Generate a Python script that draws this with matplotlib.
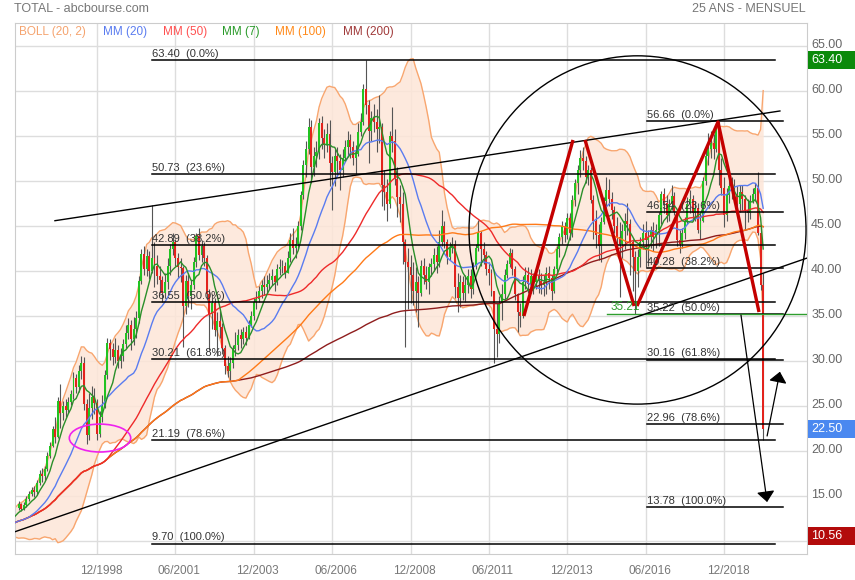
import numpy as np
import pandas as pd
import matplotlib
matplotlib.use("Agg")
import matplotlib.pyplot as plt
from matplotlib.patches import Ellipse, Rectangle
from matplotlib.transforms import ScaledTranslation

plt.rcParams['font.family'] = ['Liberation Sans', 'DejaVu Sans']

# closes before the first drawn candle (Mar 1995 - May 1996), only used to seed the averages
pre_closes = [11.0, 11.3, 11.6, 11.4, 11.2, 11.5, 11.8, 11.6, 11.9, 12.2, 12.6, 12.9, 13.2, 13.5, 13.7]

# monthly candles, Jun 1996 -> Mar 2020
closes = [
    14.1, 13.6, 14.0, 14.7, 15.2, 15.7, 15.4,                                # 1996 (jun-dec)
    16.4, 17.5, 17.2, 18.0, 19.5, 20.6, 22.4, 21.6, 25.6, 24.2, 25.0, 24.6,  # 1997
    25.5, 26.3, 28.1, 27.1, 28.9, 29.8, 25.2, 21.8, 24.8, 26.0, 25.3, 21.9,  # 1998
    23.8, 25.0, 28.5, 32.0, 31.3, 30.5, 31.2, 30.0, 30.6, 31.9, 33.1, 34.0,  # 1999
    32.4, 33.6, 34.8, 38.9, 41.9, 40.2, 41.7, 40.0, 41.5, 40.6, 39.5, 39.0,  # 2000
    37.6, 38.8, 40.6, 42.4, 43.2, 41.4, 40.5, 40.3, 36.1, 38.9, 37.2, 38.4,  # 2001
    41.0, 43.9, 41.8, 42.8, 41.4, 37.4, 35.2, 36.4, 33.4, 34.5, 33.8, 31.4,  # 2002
    29.4, 28.9, 29.8, 31.3, 31.8, 32.9, 32.4, 33.2, 32.6, 34.0, 35.0, 36.6,  # 2003
    36.9, 37.8, 38.4, 38.2, 38.6, 39.0, 39.4, 38.8, 40.2, 40.4, 40.6, 39.8,  # 2004
    41.4, 43.4, 42.6, 43.0, 45.0, 48.4, 51.8, 53.6, 56.0, 51.6, 52.8, 53.2,  # 2005
    56.4, 54.8, 54.0, 55.2, 52.0, 51.0, 52.8, 52.2, 51.2, 52.6, 53.8, 54.6,  # 2006
    53.8, 52.6, 53.0, 55.4, 56.6, 60.2, 58.4, 55.6, 57.0, 56.6, 55.8, 56.0,  # 2007
    49.6, 48.8, 47.4, 55.0, 54.4, 50.2, 48.2, 47.4, 43.2, 41.0, 40.4, 39.6,  # 2008
    37.8, 38.8, 37.6, 40.6, 39.6, 38.8, 40.4, 40.8, 41.8, 41.0, 43.2, 45.0,  # 2009
    43.2, 41.6, 42.6, 43.0, 38.2, 37.0, 38.8, 37.6, 38.4, 39.4, 38.0, 40.6,  # 2010
    42.6, 44.2, 42.4, 41.8, 40.2, 39.8, 37.8, 33.6, 33.0, 36.4, 37.4, 39.6,  # 2011
    40.8, 42.0, 40.2, 37.4, 35.4, 35.0, 38.8, 39.6, 38.6, 39.4, 38.8, 39.4,  # 2012
    38.9, 38.4, 38.8, 39.8, 39.2, 37.8, 40.2, 42.4, 43.8, 45.0, 44.0, 45.9,  # 2013
    44.2, 47.9, 49.8, 51.2, 52.6, 52.2, 50.4, 51.2, 47.9, 45.6, 44.0, 42.8,  # 2014
    45.4, 47.8, 49.0, 48.0, 46.8, 45.0, 43.8, 43.0, 44.4, 45.6, 45.2, 43.2,  # 2015
    41.6, 40.0, 41.6, 43.2, 44.2, 43.4, 43.8, 44.6, 43.8, 44.6, 46.2, 48.6,  # 2016
    47.6, 46.2, 47.4, 48.3, 46.6, 43.4, 43.0, 44.2, 45.6, 47.4, 48.0, 46.4,  # 2017
    47.0, 44.6, 45.6, 50.0, 52.8, 53.6, 54.2, 53.6, 55.8, 51.2, 49.2, 46.2,  # 2018
    48.4, 49.4, 49.0, 48.6, 47.4, 48.8, 48.0, 46.8, 46.4, 47.8, 48.6, 49.2,  # 2019
    44.2, 38.4, 22.5,                                                        # 2020 (jan-mar)
]
highs = [
    14.4, 14.2, 14.3, 15.0, 15.6, 16.0, 16.1,
    16.8, 17.9, 18.1, 18.3, 19.9, 21.0, 22.8, 23.8, 26.0, 27.4, 25.6, 25.8,
    26.0, 26.8, 28.8, 28.6, 29.6, 30.6, 30.4, 25.8, 26.4, 27.2, 27.0, 25.8,
    24.5, 26.2, 29.0, 32.6, 32.5, 32.0, 32.6, 31.8, 31.4, 32.4, 34.0, 34.8,
    34.6, 34.9, 35.6, 39.4, 42.5, 42.8, 42.4, 42.2, 47.3, 43.2, 41.8, 40.6,
    39.4, 39.8, 41.4, 43.0, 44.2, 43.6, 42.0, 41.4, 40.6, 39.6, 39.8, 39.0,
    41.6, 44.2, 44.8, 43.4, 43.2, 41.8, 38.0, 37.4, 37.0, 35.4, 35.6, 34.2,
    31.8, 30.6, 30.4, 31.8, 33.2, 33.6, 33.6, 33.8, 33.9, 34.6, 35.6, 37.0,
    37.8, 38.3, 39.0, 39.4, 39.6, 39.8, 40.2, 39.6, 40.8, 41.3, 41.2, 41.0,
    42.2, 44.2, 44.8, 43.8, 45.6, 48.9, 52.3, 54.4, 57.0, 56.8, 53.8, 54.4,
    57.0, 57.2, 55.8, 56.4, 56.8, 52.8, 53.6, 53.8, 53.0, 53.6, 54.6, 55.6,
    55.2, 54.4, 54.0, 56.4, 57.6, 60.8, 63.4, 59.0, 57.8, 58.6, 58.0, 59.6,
    56.4, 51.2, 50.2, 55.6, 58.2, 55.8, 51.6, 49.6, 48.8, 43.6, 42.6, 41.8,
    41.0, 40.4, 39.4, 41.2, 41.4, 40.6, 40.9, 41.4, 42.6, 42.8, 44.6, 46.8,
    45.6, 43.6, 43.2, 43.8, 43.4, 39.8, 39.6, 39.4, 39.6, 40.2, 40.2, 41.0,
    43.0, 45.7, 44.4, 43.2, 42.2, 41.0, 40.2, 37.8, 36.4, 37.2, 38.6, 40.2,
    41.2, 42.6, 42.4, 40.6, 37.6, 36.4, 39.4, 40.4, 40.4, 40.2, 39.8, 39.8,
    40.2, 39.8, 39.6, 40.4, 40.6, 39.6, 40.6, 42.8, 44.2, 45.6, 45.4, 46.4,
    46.4, 48.4, 50.2, 51.8, 53.4, 53.8, 52.8, 51.8, 51.6, 48.4, 46.8, 45.2,
    46.0, 48.2, 50.4, 50.2, 48.8, 47.2, 46.0, 45.4, 45.2, 46.4, 47.6, 45.8,
    43.6, 42.2, 42.4, 43.8, 45.2, 45.6, 44.6, 45.0, 45.4, 45.2, 46.6, 48.9,
    49.2, 48.4, 48.0, 49.6, 48.8, 46.8, 44.6, 44.8, 46.0, 48.2, 49.0, 48.4,
    47.8, 47.6, 46.6, 50.4, 53.6, 55.3, 55.6, 55.2, 56.2, 56.66, 52.6, 50.4,
    49.2, 50.2, 50.4, 50.2, 49.4, 49.6, 49.6, 48.4, 48.0, 48.4, 49.2, 49.8,
    51.0, 45.0, 39.8,
]
lows = [
    13.5, 13.3, 13.4, 13.8, 14.5, 15.0, 14.9,
    15.1, 16.2, 16.6, 16.8, 17.8, 19.2, 20.4, 20.9, 21.4, 22.6, 23.4, 23.8,
    24.2, 25.1, 25.8, 26.4, 26.6, 28.0, 24.6, 20.8, 21.2, 23.6, 24.1, 21.2,
    21.6, 23.2, 24.8, 28.0, 30.1, 29.6, 29.8, 29.2, 29.2, 30.0, 31.4, 32.5,
    31.2, 31.8, 32.6, 34.2, 38.6, 39.6, 39.4, 39.1, 39.8, 38.2, 38.6, 37.6,
    36.6, 37.0, 38.0, 39.6, 41.8, 40.6, 39.2, 38.8, 31.6, 35.2, 36.0, 35.8,
    38.0, 40.4, 41.2, 41.0, 40.6, 36.8, 31.2, 33.6, 32.8, 30.6, 32.6, 30.8,
    28.6, 28.2, 27.9, 29.2, 30.6, 31.2, 31.4, 31.9, 31.8, 32.4, 33.8, 34.6,
    35.8, 36.6, 37.0, 37.3, 37.4, 38.0, 38.4, 37.8, 38.4, 39.6, 39.8, 39.2,
    39.8, 41.0, 41.9, 41.4, 42.6, 44.6, 48.0, 50.4, 53.0, 49.8, 50.6, 51.6,
    52.4, 53.6, 52.6, 53.2, 49.4, 46.8, 49.4, 50.6, 49.0, 50.4, 52.2, 52.8,
    52.6, 51.8, 50.8, 52.8, 55.0, 56.2, 57.4, 52.0, 54.4, 55.4, 53.2, 54.2,
    47.2, 46.8, 45.6, 47.0, 53.2, 49.6, 46.0, 45.4, 40.8, 31.6, 35.8, 36.4,
    36.2, 35.4, 33.8, 37.2, 38.6, 38.0, 37.4, 39.4, 40.0, 39.8, 40.4, 42.8,
    42.6, 40.8, 41.2, 42.0, 37.0, 35.4, 36.0, 36.8, 36.6, 37.6, 37.0, 37.4,
    40.2, 42.2, 40.6, 40.8, 39.6, 38.4, 37.2, 29.8, 30.4, 32.0, 34.6, 36.8,
    39.2, 40.4, 39.6, 36.8, 33.2, 33.8, 34.8, 38.0, 37.6, 37.6, 37.4, 38.0,
    37.6, 37.4, 37.2, 37.4, 38.0, 36.8, 37.6, 39.8, 41.6, 43.0, 43.2, 43.6,
    43.4, 43.8, 47.2, 48.6, 50.4, 51.2, 49.8, 49.6, 47.6, 43.6, 42.6, 41.2,
    41.0, 45.2, 46.4, 47.2, 45.8, 44.2, 42.4, 37.1, 41.4, 42.4, 44.0, 39.6,
    37.8, 35.21, 38.2, 40.4, 42.4, 40.4, 40.6, 42.6, 42.2, 42.6, 42.8, 45.2,
    46.4, 45.4, 45.6, 46.8, 46.2, 42.8, 42.0, 42.6, 43.6, 45.2, 46.4, 45.6,
    45.6, 44.2, 43.6, 45.4, 49.6, 51.8, 52.6, 52.4, 53.2, 49.6, 48.4, 44.9,
    45.6, 47.6, 48.0, 47.6, 46.4, 46.6, 46.8, 44.6, 45.4, 45.8, 47.6, 47.8,
    44.0, 37.9, 21.2,
]

# month index: 0 = 12/1998
first_month = -30
date_ticks = [0, 30, 60, 90, 120, 150, 180, 210, 240]
date_labels = ["12/1998", "06/2001", "12/2003", "06/2006", "12/2008",
               "06/2011", "12/2013", "06/2016", "12/2018"]
price_ticks = [10, 15, 20, 25, 30, 35, 40, 45, 50, 55, 60, 65]

# fibonacci retracements
fib_pcts = ["0.0%", "23.6%", "38.2%", "50.0%", "61.8%", "78.6%", "100.0%"]
fib_long = [63.40, 50.73, 42.89, 36.55, 30.21, 21.19, 9.70]
fib_long_span = (21.05, 259.5)
fib_short = [56.66, 46.54, 40.28, 35.22, 30.16, 22.96, 13.78]
fib_short_span = (210.5, 262.4)
support_level = 35.21

# hand drawn lines (month, price)
channel_top = [(-16.1, 45.59), (261.4, 57.78)]
channel_bottom = [(-31.4, 11.03), (271.8, 41.44)]
zigzag = [
    [(163.4, 35.0), (182.2, 54.56)],
    [(186.8, 54.56), (205.6, 36.11)],
    [(206.7, 36.11), (237.7, 56.56), (253.4, 35.44)],
]
arrow_down = ((246.5, 35.11), (256.5, 14.33))
arrow_up = ((256.5, 21.67), (261.4, 28.81))
circle_center, circle_w, circle_h = (206.9, 44.56), 129.0, 38.7
oval_center, oval_w, oval_h = (1.15, 21.44), 23.5, 3.1

last_price = 22.50
top_price = 63.40
low_mark = 10.56

# ---- indicators on the full history
all_close = pd.Series(pre_closes + closes)
all_m = np.arange(len(all_close)) + first_month - len(pre_closes)
ma = {n: all_close.rolling(n, min_periods=1).mean() for n in (7, 20, 50, 100, 200)}
mid = all_close.rolling(20, min_periods=1).mean()
sd = all_close.rolling(20, min_periods=2).std(ddof=0).fillna(0)
upper, lower = mid + 2 * sd, mid - 2 * sd

c = np.array(closes)
m = np.arange(len(c)) + first_month
o = np.r_[pre_closes[-1], c[:-1]]
h = np.maximum(np.array(highs), np.maximum(o, c))
l = np.minimum(np.array(lows), np.minimum(o, c))
up = c >= o

W, H = 855, 580
fig = plt.figure(figsize=(W / 100, H / 100), dpi=100)
ax = fig.add_axes([15 / W, 26 / H, 792 / W, 531 / H])
ax.set_xlim(-31.39, 271.77)
ax.set_ylim(8.556, 67.556)

ax.set_axisbelow(True)
ax.grid(True, color='#dddddd', lw=1)
for s in ax.spines.values():
    s.set_color('#cccccc')

# bollinger
ax.fill_between(all_m, lower, upper, color='#fde6d8', alpha=0.85, lw=0, zorder=1)
ax.plot(all_m, upper, color='#f8a66f', lw=1, zorder=1.5)
ax.plot(all_m, lower, color='#f8a66f', lw=1, zorder=1.5)

# candles
ax.vlines(m, l, h, color='#555555', lw=0.8, zorder=2)
body = np.where(np.abs(c - o) < 0.1, 0.1, c - o)
ax.bar(m[up], body[up], bottom=o[up], width=0.75, color='#22c322', lw=0, zorder=2.5)
ax.bar(m[~up], body[~up], bottom=o[~up], width=0.75, color='#e3231d', lw=0, zorder=2.5)

# moving averages
ma_colors = {200: '#8e1c1c', 100: '#ff7a18', 50: '#ee2a2a', 20: '#5a7cf0', 7: '#2a8f2a'}
for n, col in ma_colors.items():
    ax.plot(all_m, ma[n], color=col, lw=1, zorder=3)

# fibonacci levels
for levels, (x0, x1) in ((fib_long, fib_long_span), (fib_short, fib_short_span)):
    for lev, pct in zip(levels, fib_pcts):
        ax.plot([x0, x1], [lev, lev], color='black', lw=1.1, zorder=4)
        ax.text(x0, lev + 0.15, "%.2f  (%s)" % (lev, pct), fontsize=8,
                color='#333333', va='bottom', ha='left', zorder=6)

ax.plot([195.2, 271.77], [support_level, support_level], color='#2e9e2e', lw=1, zorder=4)
ax.text(196.7, support_level + 0.15, "%.2f" % support_level, fontsize=8.5,
        color='#2e9e2e', va='bottom', zorder=6)

# channel + drawings
for line in (channel_top, channel_bottom):
    xs, ys = zip(*line)
    ax.plot(xs, ys, color='black', lw=1, zorder=4)
for seg in zigzag:
    xs, ys = zip(*seg)
    ax.plot(xs, ys, color='#c40000', lw=2.4, solid_capstyle='butt', zorder=5)
for start, tip in (arrow_down, arrow_up):
    ax.annotate('', xy=tip, xytext=start, zorder=5,
                arrowprops=dict(arrowstyle='-|>,head_length=0.65,head_width=0.55',
                                color='black', lw=0.9, shrinkA=0, shrinkB=0))
ax.add_patch(Ellipse(circle_center, circle_w, circle_h, fill=False, ec='black', lw=1, zorder=4))
ax.add_patch(Ellipse(oval_center, oval_w, oval_h, fill=False, ec='#ee22ee', lw=1.2, zorder=4))

# axes labels
ax.set_xticks(date_ticks)
ax.set_xticklabels(date_labels)
ax.tick_params(axis='x', length=0, pad=8, labelsize=8.5, labelcolor='#777777')
ax.yaxis.tick_right()
ax.set_yticks(price_ticks)
# the 10.00 label sits under the marker box, leave it blank
ax.set_yticklabels(["" if v == 10 else "%.2f" % v for v in price_ticks])
ax.tick_params(axis='y', length=0, pad=3, labelsize=9, labelcolor='#666666')
for lab in ax.get_xticklabels():
    lab.set_transform(lab.get_transform() + ScaledTranslation(0.04, 0, fig.dpi_scale_trans))
for lab in ax.get_yticklabels():
    lab.set_transform(lab.get_transform() + ScaledTranslation(0, 0.03, fig.dpi_scale_trans))

for val, col in ((top_price, '#0b8a0b'), (last_price, '#4a88f0'), (low_mark, '#b30b0b')):
    ax.add_patch(Rectangle((1.0013, val - 1.0), 0.06, 2.0, transform=ax.get_yaxis_transform(),
                           clip_on=False, fc=col, ec='none', zorder=10))
    ax.text(1.005, val, "%.2f" % val, transform=ax.get_yaxis_transform(), va='center',
            ha='left', color='white', fontsize=9, zorder=11, clip_on=False)

# header
fig.text(14 / W, 1 - 9 / H, "TOTAL - abcbourse.com", fontsize=9, color='#777777', va='center')
fig.text(806 / W, 1 - 9 / H, "25 ANS - MENSUEL", fontsize=9, color='#777777', va='center', ha='right')
legend = [("BOLL (20, 2)", '#f5a36e', 19), ("MM (20)", '#5a7cf0', 103), ("MM (50)", '#ff5050', 163),
          ("MM (7)", '#2a9a2a', 222), ("MM (100)", '#ff8a1a', 275), ("MM (200)", '#a03a3a', 343)]
for txt, col, xp in legend:
    fig.text(xp / W, 1 - 32 / H, txt, fontsize=8.5, color=col, va='center')

fig.savefig("out.png", dpi=100)
